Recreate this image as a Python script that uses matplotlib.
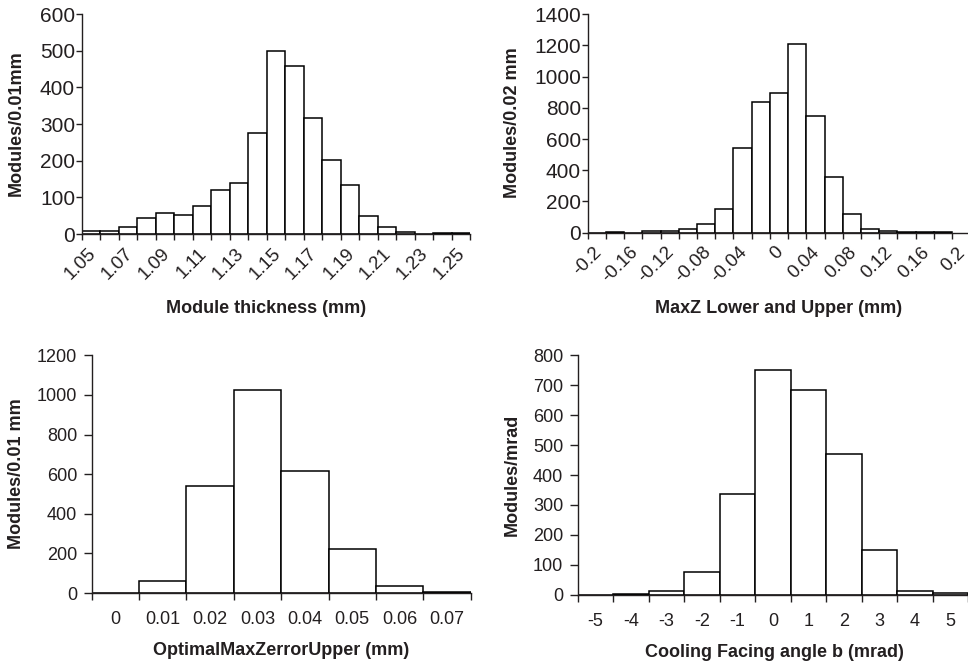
import numpy as np
import matplotlib
matplotlib.use('Agg')
import matplotlib.pyplot as plt
import matplotlib.transforms as mtrans
from matplotlib.ticker import FixedLocator, NullFormatter

plt.rcParams['font.family'] = ['Liberation Sans', 'DejaVu Sans']
ink = '#231f20'
plt.rcParams['text.color'] = ink
plt.rcParams['axes.labelcolor'] = ink
plt.rcParams['xtick.color'] = ink
plt.rcParams['ytick.color'] = ink

# module thickness, 0.01 mm bins starting at 1.05
thick_bins = np.round(1.05 + 0.01 * np.arange(21), 2)
thick_counts = [8, 8, 20, 45, 56, 53, 76, 119, 139, 276, 498, 459, 315, 201, 135, 49, 20, 6, 0, 2, 2]
thick_labels = ['1.05', '1.07', '1.09', '1.11', '1.13', '1.15', '1.17', '1.19', '1.21', '1.23', '1.25']

# MaxZ lower and upper, 0.02 mm bins starting at -0.2
maxz_bins = np.round(-0.2 + 0.02 * np.arange(20), 2)
maxz_counts = [0, 3, 0, 8, 8, 21, 57, 151, 545, 840, 895, 1209, 750, 355, 123, 23, 13, 4, 4, 3]
maxz_labels = ['-0.2', '-0.16', '-0.12', '-0.08', '-0.04', '0', '0.04', '0.08', '0.12', '0.16', '0.2']

# OptimalMaxZerrorUpper
opt_labels = ['0', '0.01', '0.02', '0.03', '0.04', '0.05', '0.06', '0.07']
opt_counts = [0, 59, 540, 1027, 614, 222, 34, 3]

# Cooling facing angle b
angle_labels = ['-5', '-4', '-3', '-2', '-1', '0', '1', '2', '3', '4', '5']
angle_counts = [0, 2, 11, 76, 335, 750, 685, 471, 150, 14, 6]

W, H = 968, 667
fig = plt.figure(figsize=(W / 100, H / 100), dpi=100)


def px_axes(left, right, top, bottom):
    return fig.add_axes([left / W, (H - bottom) / H, (right - left) / W, (bottom - top) / H])


def style(ax, ysize, ylen, ypad):
    for s in ['top', 'right']:
        ax.spines[s].set_visible(False)
    for s in ['left', 'bottom']:
        ax.spines[s].set_color(ink)
        ax.spines[s].set_linewidth(1.0)
    ax.tick_params(axis='y', direction='out', length=ylen, width=1.0, pad=ypad, labelsize=ysize)
    ax.tick_params(axis='x', direction='out', length=4, width=1.0)


bar_kw = dict(color='white', edgecolor='black', linewidth=1.1)
top_fs = 15
rot_fs = 13.5
bot_fs = 13

# top left
ax1 = px_axes(82, 470, 14, 234)
ax1.bar(thick_bins, thick_counts, width=0.01, align='edge', **bar_kw)
ax1.set_xlim(1.05, 1.26)
ax1.set_ylim(0, 600)
ax1.set_yticks(range(0, 601, 100))
style(ax1, top_fs, 4, 1)
edges1 = np.round(1.05 + 0.01 * np.arange(22), 2)
ax1.xaxis.set_major_locator(FixedLocator(edges1))
lab1 = []
for i in range(len(edges1)):
    lab1.append(thick_labels[i // 2] if i % 2 == 0 else '')
ax1.set_xticklabels(lab1, rotation=45, ha='right', rotation_mode='anchor', fontsize=rot_fs)
ax1.tick_params(axis='x', pad=4)
ax1.set_xlabel('Module thickness (mm)', fontsize=13, fontweight='bold')
ax1.xaxis.set_label_coords(0.474, -0.30)
ax1.set_ylabel('Modules/0.01mm', fontsize=13, fontweight='bold')
ax1.yaxis.set_label_coords(-0.147, 0.505)

# top right
ax2 = px_axes(587.7, 968, 14.3, 232.7)
ax2.bar(maxz_bins, maxz_counts, width=0.02, align='edge', **bar_kw)
ax2.set_xlim(-0.2, 0.2175)
ax2.set_ylim(0, 1400)
ax2.set_yticks(range(0, 1401, 200))
style(ax2, top_fs, 4, 1)
edges2 = np.round(-0.2 + 0.02 * np.arange(21), 2)
ax2.xaxis.set_major_locator(FixedLocator(edges2))
lab2 = []
for i in range(len(edges2)):
    lab2.append(maxz_labels[i // 2] if i % 2 == 0 else '')
ax2.set_xticklabels(lab2, rotation=45, ha='right', rotation_mode='anchor', fontsize=rot_fs)
ax2.tick_params(axis='x', pad=4)
ax2.set_xlabel('MaxZ Lower and Upper (mm)', fontsize=13, fontweight='bold')
ax2.xaxis.set_label_coords(0.502, -0.307)
ax2.set_ylabel('Modules/0.02 mm', fontsize=13, fontweight='bold')
ax2.yaxis.set_label_coords(-0.175, 0.502)

shift = mtrans.ScaledTranslation(5 / 100, 0, fig.dpi_scale_trans)
for ax in (ax1, ax2):
    for lbl in ax.get_xticklabels():
        lbl.set_transform(lbl.get_transform() + shift)

# bottom left
ax3 = px_axes(91.7, 470.7, 355.3, 593)
pos3 = np.arange(len(opt_counts))
ax3.bar(pos3, opt_counts, width=1.0, **bar_kw)
ax3.set_xlim(-0.5, len(opt_counts) - 0.5)
ax3.set_ylim(0, 1200)
ax3.set_yticks(range(0, 1201, 200))
style(ax3, bot_fs, 5.5, 5)
ax3.set_xticks(np.arange(len(opt_counts) + 1) - 0.5)
ax3.xaxis.set_major_formatter(NullFormatter())
ax3.set_xticks(pos3, opt_labels, minor=True)
ax3.tick_params(axis='x', which='major', length=5)
ax3.tick_params(axis='x', which='minor', length=0, pad=13, labelsize=bot_fs)
ax3.set_xlabel('OptimalMaxZerrorUpper (mm)', fontsize=13, fontweight='bold')
ax3.xaxis.set_label_coords(0.500, -0.205)
ax3.set_ylabel('Modules/0.01 mm', fontsize=13, fontweight='bold')
ax3.yaxis.set_label_coords(-0.176, 0.504)

# bottom right
ax4 = px_axes(577.7, 968, 355.3, 594.7)
pos4 = np.arange(len(angle_counts))
ax4.bar(pos4, angle_counts, width=1.0, **bar_kw)
ax4.set_xlim(-0.5, len(angle_counts) - 0.5)
ax4.set_ylim(0, 800)
ax4.set_yticks(range(0, 801, 100))
style(ax4, bot_fs, 5.5, 5)
ax4.set_xticks(np.arange(len(angle_counts) + 1) - 0.5)
ax4.xaxis.set_major_formatter(NullFormatter())
ax4.set_xticks(pos4, angle_labels, minor=True)
ax4.tick_params(axis='x', which='major', length=5)
ax4.tick_params(axis='x', which='minor', length=0, pad=13, labelsize=bot_fs)
ax4.set_xlabel('Cooling Facing angle b (mrad)', fontsize=13, fontweight='bold')
ax4.xaxis.set_label_coords(0.504, -0.205)
ax4.set_ylabel('Modules/mrad', fontsize=13, fontweight='bold')
ax4.yaxis.set_label_coords(-0.145, 0.5)

fig.savefig('out.png', dpi=100)
